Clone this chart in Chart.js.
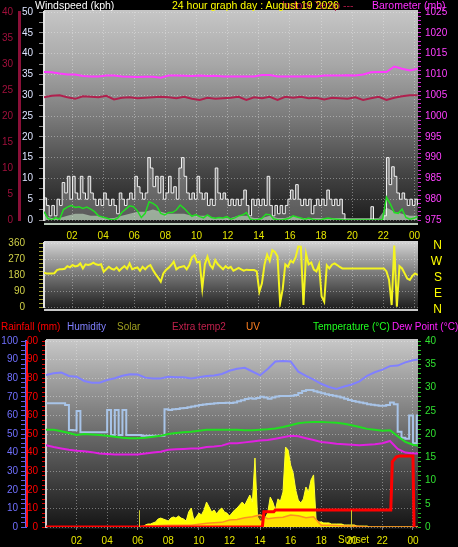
<!DOCTYPE html>
<html>
<head>
<meta charset="utf-8">
<script src="https://cdn.jsdelivr.net/npm/chart.js@4.4.1/dist/chart.umd.min.js"></script>
<style>
  body { margin: 0; background: #000; width: 458px; height: 547px; overflow: hidden; position: relative;
         font-family: 'Liberation Sans', Arial, sans-serif; }
  canvas { position: absolute; left: 0; }
  .t { position: absolute; font-size: 10.5px; line-height: 12px; white-space: nowrap; }
  .l { position: absolute; font-size: 10px; line-height: 12px; white-space: nowrap; }
</style>
</head>
<body>
<canvas id="cTop" width="458" height="247" style="top:0"></canvas>
<canvas id="cDir" width="458" height="84" style="top:233px"></canvas>
<canvas id="cBottom" width="458" height="216" style="top:331px"></canvas>

<div class="t" style="left:35px;top:-1px;color:#fff">Windspeed (kph)</div>
<div class="t" style="left:282px;top:-1px;color:#b01848">Indoor Temp ---</div>
<div class="t" style="left:172px;top:-1px;color:#ffff00">24 hour graph day : August 19 2026</div>
<div class="t" style="left:372px;top:-1px;color:#ff30ff">Barometer (mb)</div>

<div class="l" style="left:1px;top:321px;color:#ff0000">Rainfall (mm)</div>
<div class="l" style="left:67px;top:321px;color:#8080ff">Humidity</div>
<div class="l" style="left:117px;top:321px;color:#a0a020">Solar</div>
<div class="l" style="left:172px;top:321px;color:#c0204c">Extra temp2</div>
<div class="l" style="left:246px;top:321px;color:#ff8020">UV</div>
<div class="l" style="left:313px;top:321px;color:#20ff20">Temperature (°C)</div>
<div class="l" style="left:392px;top:321px;color:#ff20ff">Dew Point (°C)</div>
<div class="l" style="left:338px;top:534px;color:#e6e600">Sunset</div>

<script>
// x axis ticks (hours of the day)
const xTickHours = [2, 4, 6, 8, 10, 12, 14, 16, 18, 20, 22, 24];
const xTickLabels = ['02', '04', '06', '08', '10', '12', '14', '16', '18', '20', '22', '00'];
const compassLabels = ['N', 'E', 'S', 'W', 'N'];

// top panel, samples start at 00:12
const windGust = [ // every 10 min, kph
  5.3, 3.5, 1, 3.5, 1, 5, 3.5, 9, 6.5, 10.5,
  5, 10.5, 6.5, 5, 10.5, 6.5, 5, 10.5, 6.5, 5,
  3.5, 5, 3.5, 6.5, 5, 3.5, 5, 3.5, 1.5, 6.5,
  5, 3.5, 5, 6.5, 5, 10.5, 8, 6.5, 5, 6.5,
  15, 12.5, 8, 10.5, 6.5, 10.5, 5, 6.5, 10.5, 6.5,
  8, 5, 12.5, 15, 10.5, 6.5, 5, 6.5, 5, 10.5,
  6.5, 5, 6.5, 3.5, 5, 3.5, 12.5, 6.5, 5, 6.5,
  5, 3.5, 5, 3.5, 5, 3.5, 5, 7.2, 3.5, 1,
  5, 3.5, 5, 3.5, 5, 3.5, 10.5, 3.5, 1, 3.5,
  1.5, 3.5, 1.5, 3.5, 5, 7.2, 5, 8.5, 5, 3.5,
  5, 3.5, 5, 1.5, 3.5, 5, 3.5, 5, 3.5, 7.2,
  5, 3.5, 5, 3.5, 5, 1.5, 0, 0, 0, 0,
  0, 0, 0, 0, 0, 0, 3.2, 0, 0, 0,
  0, 1, 15, 8.5, 12.8, 10.5, 6.5, 5, 6.5, 5,
  3.5, 5, 3.5, 5, 3.5
];
const windAvg = [ // every 15 min, kph
  2.0, 0.4, 0, 0.6, 0.2, 2.5, 3.1, 3.5, 3.0, 3.2,
  2.8, 3.1, 2.6, 2.0, 1.0, 0.7, 0.5, 0.2, 0, 0.5,
  1.8, 2.6, 3.4, 3.2, 2.2, 0.6, 1.6, 4.4, 4.0, 3.3,
  1.6, 1.2, 1.8, 1.8, 2.4, 3.6, 2.8, 1.8, 0.9, 1.3,
  0.8, 0.5, 1.2, 0.6, 0.4, 0.6, 0.5, 0.8, 0.2, 0.5,
  1.0, 1.2, 1.8, 0.2, 0, 0.1, 0.4, 1.4, 1.3, 0.3,
  0, 0, 0.2, 0.4, 1.0, 0.7, 0.5, 0.2, 0.5, 0.2,
  0, 0, 0.3, 0.5, 0.3, 0.2, 0.1, 0, 0, 0,
  0, 0, 0, 0, 0, 0, 0, 0.1, 5.5, 3.8,
  1.8, 1.6, 2.6, 0.6, 0.2, 0.4, 0.8
];
const windLow = [ // every 30 min, kph
  1, 0.5, 0.5, 1, 1.5, 1.5, 1, 1, 0.5, 0.5,
  1, 1.5, 2, 2, 2.5, 2, 1.5, 1.5, 1.5, 1,
  1, 1, 0.5, 0.5, 0.5, 1, 1, 0.5, 0.5, 1,
  0.5, 0.5, 1, 0.5, 0.5, 0.5, 0.5, 0.5, 0.5, 0.5,
  0.5, 0.5, 0.5, 0.5, 3, 2, 1.5, 1, 1
];
const barometer = [ // every 30 min, mb
  1010.55, 1010.5, 1010.2, 1010.0, 1010.0, 1009.6, 1009.5, 1009.5, 1009.75, 1009.75,
  1009.5, 1009.45, 1009.4, 1009.45, 1009.45, 1009.2, 1009.75, 1009.75, 1009.7, 1009.6,
  1009.75, 1009.6, 1009.7, 1009.5, 1009.5, 1009.5, 1009.5, 1009.5, 1009.85, 1009.85,
  1009.5, 1009.5, 1009.5, 1009.5, 1009.55, 1009.5, 1009.75, 1009.75, 1009.75, 1009.8,
  1009.75, 1010.0, 1010.5, 1010.55, 1010.55, 1011.9, 1011.35, 1010.95, 1011.35
];
const indoorTemp = [ // every 30 min, °C
  23.6, 23.9, 24.0, 23.6, 23.3, 23.8, 23.7, 23.6, 23.9, 23.2,
  23.5, 23.6, 23.4, 23.5, 23.6, 23.7, 23.6, 23.4, 23.7, 23.3,
  23.1, 23.5, 23.3, 23.4, 23.5, 23.7, 23.1, 23.6, 23.4, 23.7,
  23.1, 23.7, 23.5, 23.7, 23.4, 23.5, 23.2, 23.5, 23.4, 23.3,
  23.6, 23.1, 23.4, 23.7, 23.1, 23.5, 23.8, 24.0, 24.0
];

// middle panel
const windDir = [ // every 10 min, degrees
  193, 189, 189, 189, 190, 208, 212, 212, 215, 230,
  223, 236, 228, 232, 245, 217, 240, 236, 240, 249,
  240, 236, 240, 198, 212, 226, 215, 210, 223, 204,
  218, 230, 215, 245, 212, 218, 223, 204, 226, 212,
  228, 236, 208, 185, 165, 142, 189, 208, 220, 235,
  255, 212, 223, 226, 230, 212, 236, 280, 292, 250,
  255, 105, 240, 283, 236, 217, 264, 240, 226, 212,
  230, 218, 226, 204, 212, 220, 212, 204, 210, 208,
  208, 208, 200, 86, 133, 240, 295, 260, 320, 310,
  285, 21, 100, 240, 226, 260, 250, 280, 340, 339,
  11, 300, 240, 250, 210, 200, 240, 60, 30, 235,
  217, 238, 245, 236, 225, 217, 217, 217, 217, 217,
  217, 217, 217, 217, 217, 217, 217, 217, 217, 217,
  217, 217, 200, 152, 11, 345, 2, 230, 217, 189,
  160, 152, 175, 189, 180
];

// bottom panel, samples start at 00:00
const humidity = [ // every 30 min, %
  81.7, 82.6, 83.0, 81.2, 80.8, 78.5, 77.6, 77.6, 79.0, 80.0,
  81.3, 82.1, 82.0, 80.3, 79.9, 79.9, 80.8, 80.5, 80.5, 79.9,
  80.5, 81.2, 81.5, 82.3, 84.0, 85.1, 85.6, 83.6, 81.5, 85.0,
  89.0, 89.2, 89.0, 83.5, 81.2, 79.2, 77.0, 75.3, 74.2, 75.5,
  76.6, 78.3, 81.3, 83.2, 84.6, 86.5, 86.8, 88.5, 89.6, 90.2
];
const indoorHum = [ // every 15 min, %
  66.5, 66.5, 66.5, 66.5, 66.5, 65.6, 52.2, 52.0, 62.4, 51.0,
  50.9, 50.9, 50.9, 50.9, 50.9, 50.9, 62.9, 49.5, 62.9, 49.5,
  62.9, 49.5, 49.5, 49.5, 49.5, 49.1, 49.1, 49.1, 49.1, 49.1,
  49.1, 63.3, 62.9, 63.3, 63.5, 63.8, 64.0, 64.4, 64.8, 65.2,
  65.6, 65.8, 66.1, 66.3, 66.5, 66.6, 66.7, 66.8, 66.6, 67.0,
  67.6, 68.2, 68.8, 69.2, 68.9, 69.4, 70.0, 69.6, 69.0, 69.6,
  70.2, 70.4, 70.4, 70.4, 70.6, 71.0, 72.0, 73.1, 73.6, 73.6,
  73.0, 72.5, 71.9, 71.4, 71.0, 70.6, 70.2, 69.6, 68.9, 68.3,
  67.8, 67.3, 66.9, 66.5, 66.0, 65.7, 65.4, 65.2, 65.2, 65.6,
  67.0, 66.0, 51.2, 48.0, 47.5, 60.0, 45.0, 60.0, 44.5
];
const temperature = [ // every 30 min, °C
  20.9, 20.9, 20.6, 20.2, 19.8, 20.0, 19.9, 19.8, 19.6, 19.4,
  19.2, 19.1, 19.1, 19.2, 19.4, 19.6, 20.0, 20.2, 20.4, 20.5,
  20.7, 20.9, 20.9, 20.9, 20.9, 20.9, 20.8, 20.8, 20.9, 21.0,
  21.2, 21.5, 21.9, 22.3, 22.5, 22.6, 22.6, 22.5, 22.4, 22.2,
  21.9, 21.5, 21.1, 20.9, 20.7, 20.8, 19.5, 18.3, 17.7, 17.4
];
const dewPoint = [ // every 30 min, °C
  17.6, 17.2, 16.9, 16.6, 16.4, 16.3, 16.1, 15.8, 15.7, 15.6,
  15.6, 15.6, 15.6, 15.8, 16.0, 16.2, 16.6, 16.7, 16.8, 16.9,
  16.9, 17.2, 17.3, 17.5, 18.0, 18.0, 18.2, 18.4, 18.6, 18.7,
  19.0, 19.3, 19.6, 19.5, 19.1, 18.7, 18.3, 18.1, 17.9, 17.8,
  17.7, 17.6, 17.7, 17.8, 18.0, 18.5, 16.8, 16.0, 15.8, 15.8
];
const solar = [ // every 10 min, W/m²
  0, 0, 0, 0, 0, 0, 0, 0, 0, 0,
  0, 0, 0, 0, 0, 0, 0, 0, 0, 0,
  0, 0, 0, 0, 0, 0, 0, 0, 0, 0,
  0, 0, 0, 0, 0, 0, 0, 0, 0, 11,
  16, 16, 22, 27, 43, 48, 43, 38, 32, 48,
  54, 48, 59, 48, 43, 32, 81, 102, 38, 54,
  75, 65, 91, 134, 108, 81, 91, 70, 91, 102,
  81, 75, 59, 75, 91, 102, 118, 134, 118, 145,
  172, 134, 371, 54, 32, 32, 48, 75, 161, 134,
  91, 151, 140, 188, 430, 414, 333, 290, 199, 145,
  129, 151, 215, 188, 253, 280, 38, 27, 27, 22,
  22, 22, 16, 16, 16, 16, 16, 11, 11, 11,
  11, 11, 5, 5, 5, 5, 5, 0, 0, 0,
  0, 0, 0, 0, 0, 0, 0, 0, 0, 0,
  0, 0, 0, 0, 0, 0, 0
];
const uvIndex = [ // every 30 min
  0, 0, 0, 0, 0, 0, 0, 0, 0, 0,
  0, 0, 0, 0.1, 0.1, 0.15, 0.2, 0.2, 0.2, 0.2,
  0.3, 0.4, 0.45, 0.5, 0.75, 0.8, 1.0, 1.1, 1.3, 0.9,
  1.0, 1.05, 1.3, 1.2, 1.0, 1.1, 0.2, 0.2, 0.15, 0.1,
  0.1, 0.05, 0, 0, 0, 0, 0, 0, 0, 0
];
const rainHours = [0, 14.15, 14.25, 14.9, 15.0, 22.55, 22.65, 22.9, 23.1, 24.0, 24.07];
const rainMm = [0, 0, 8.2, 8.2, 9.1, 9.1, 35, 37.6, 38.2, 38.2, 0];
const sunEvents = [6.05, 19.95];

Chart.defaults.font.family = "'Liberation Sans', Arial, sans-serif";
Chart.defaults.font.size = 10;
Chart.defaults.animation = false;
Chart.defaults.plugins.legend.display = false;
Chart.defaults.plugins.tooltip.enabled = false;
Chart.defaults.elements.point.radius = 0;

function series(t0, step, values) {
  return values.map((v, i) => ({ x: t0 + i * step, y: v }));
}

const gridCol = 'rgba(240,240,240,0.4)';
const every = n => c => (c.tick && Math.abs(c.tick.value % n) < 1e-6 ? gridCol : 'rgba(0,0,0,0)');
const labelEvery = n => v => (Math.abs(v % n) < 1e-6 ? v : '');

const plotBg = {
  id: 'plotBg',
  beforeDraw(chart, args, o) {
    const { ctx, chartArea: a } = chart;
    const top = a.top - o.padTop, bottom = a.bottom + o.padBottom;
    const g = ctx.createLinearGradient(0, top, 0, bottom);
    o.stops.forEach(s => g.addColorStop(s[0], s[1]));
    ctx.save();
    ctx.fillStyle = g;
    ctx.fillRect(a.left, top, a.right - a.left, bottom - top);
    if (o.edge) {
      ctx.fillStyle = o.edge;
      ctx.fillRect(a.left, bottom - 2, a.right - a.left, 2);
    }
    ctx.restore();
  }
};

function hourAxis(min, max, opts) {
  return {
    type: 'linear', min, max,
    afterBuildTicks: s => { s.ticks = xTickHours.map(v => ({ value: v })); },
    afterFit: s => { s.height = opts.height; },
    ticks: { display: opts.labels, color: '#e6e600', padding: opts.padding, autoSkip: false, maxRotation: 0,
             callback: (v, i) => xTickLabels[i] },
    grid: { color: gridCol, drawTicks: opts.tickLength > 0, tickLength: opts.tickLength, tickColor: '#777' },
    border: { display: false, dash: [1, 2] }
  };
}

// ---------- top: wind + barometer ----------
new Chart(document.getElementById('cTop'), {
  type: 'line',
  data: {
    datasets: [
      { data: series(0.2, 0.5, indoorTemp), yAxisID: 'yIndoor', borderColor: '#b0204e', borderWidth: 2, order: 1 },
      { data: series(0.2, 0.5, barometer), yAxisID: 'yBaro', borderColor: '#ff3cff', borderWidth: 2, order: 2 },
      { data: series(0.2, 0.25, windAvg), yAxisID: 'yWind', borderColor: '#22dd22', borderWidth: 1.5, order: 3 },
      { data: series(0.2, 1 / 6, windGust), yAxisID: 'yWind', borderColor: '#f2f2f2', borderWidth: 1, stepped: true,
        backgroundColor: 'rgba(225,225,225,0.3)', fill: 'origin', order: 4 },
      { data: series(0.2, 0.5, windLow), yAxisID: 'yWind', borderWidth: 0, borderColor: 'rgba(0,0,0,0)',
        backgroundColor: 'rgba(200,245,200,0.55)', fill: 'origin', order: 5 }
    ]
  },
  options: {
    responsive: false,
    layout: { padding: { top: 12, left: 0, right: 0, bottom: 0 } },
    scales: {
      x: hourAxis(0.2, 24.225, { labels: true, height: 27, padding: 10, tickLength: 0 }),
      yIndoor: {
        position: 'left', weight: 2, min: 0, max: 40,
        afterFit: s => { s.width = 19; },
        ticks: { stepSize: 5, color: '#a0103c', padding: 6, autoSkip: false },
        grid: { drawOnChartArea: false, drawTicks: false },
        border: { color: '#8a1038', width: 3 }
      },
      yWind: {
        position: 'left', weight: 1, min: 0, max: 50,
        afterFit: s => { s.width = 25; },
        ticks: { stepSize: 2.5, color: '#dde4ff', padding: 6, autoSkip: false, callback: labelEvery(5) },
        grid: { color: every(5), tickColor: '#8a8a8a', tickLength: 5 },
        border: { color: '#e4e4e4', width: 2, dash: [1, 2] }
      },
      yBaro: {
        position: 'right', min: 975, max: 1025,
        afterFit: s => { s.width = 40; },
        ticks: { stepSize: 1, color: '#ff40ff', padding: 4, autoSkip: false, callback: labelEvery(5) },
        grid: { drawOnChartArea: false, tickColor: '#d020d0', tickLength: 3 },
        border: { display: false }
      }
    },
    plugins: {
      plotBg: { padTop: 2, padBottom: 5, edge: '#b8c8b8',
        stops: [[0, '#c6c6c6'], [0.25, '#a8a8a8'], [0.5, '#7a7a7a'], [0.75, '#464646'], [1, '#1a1a1a']] }
    }
  },
  plugins: [plotBg]
});

// ---------- middle: wind direction ----------
new Chart(document.getElementById('cDir'), {
  type: 'line',
  data: {
    datasets: [
      { data: series(0.2, 1 / 6, windDir), yAxisID: 'yDir', borderColor: '#f4f420', borderWidth: 2 }
    ]
  },
  options: {
    responsive: false,
    layout: { padding: { top: 0, left: 0, right: 16, bottom: 0 } },
    scales: {
      x: hourAxis(0.2, 24.225, { labels: false, height: 0, padding: 0, tickLength: 0 }),
      yDir: {
        position: 'left', weight: 2, min: 0, max: 360,
        afterFit: s => { s.width = 29; },
        ticks: { stepSize: 90, color: '#d0d048', padding: 4, autoSkip: false },
        grid: { drawOnChartArea: false, drawTicks: false },
        border: { display: false }
      },
      yDirTicks: {
        position: 'left', weight: 1, min: 0, max: 360,
        afterFit: s => { s.width = 15; },
        ticks: { stepSize: 22.5, display: false, autoSkip: false },
        grid: { color: every(90), tickColor: '#a0a030', tickLength: 5 },
        border: { color: '#e4e4e4', width: 2, dash: [1, 2] }
      },
      yCompass: {
        position: 'right', min: 0, max: 360,
        afterFit: s => { s.width = 24; },
        ticks: { stepSize: 90, color: '#ffff00', padding: 0, crossAlign: 'far', labelOffset: 3,
                 font: { size: 12 }, autoSkip: false,
                 callback: v => compassLabels[Math.round(v / 90)] },
        grid: { drawOnChartArea: false, drawTicks: false },
        border: { display: false }
      }
    },
    plugins: {
      plotBg: { padTop: 2, padBottom: 4, edge: '#c8c8c8',
        stops: [[0, '#d6d6d6'], [0.45, '#7c7c7c'], [1, '#181818']] }
    }
  },
  plugins: [plotBg]
});

// ---------- bottom: rain, humidity, temperature, solar ----------
const bottomExtras = {
  id: 'bottomExtras',
  afterDatasetsDraw(chart) {
    const { ctx, scales } = chart;
    const { x, yRain, ySolar } = scales;
    ctx.save();
    ctx.fillStyle = '#ff1010';
    ctx.fillRect(yRain.left, yRain.top, 2, yRain.bottom - yRain.top);
    ctx.strokeStyle = '#c8c830';
    ctx.lineWidth = 1;
    sunEvents.forEach(h => {
      const px = Math.round(x.getPixelForValue(h)) + 0.5;
      ctx.beginPath();
      ctx.moveTo(px, ySolar.getPixelForValue(0));
      ctx.lineTo(px, ySolar.getPixelForValue(90));
      ctx.stroke();
    });
    ctx.restore();
  }
};

new Chart(document.getElementById('cBottom'), {
  type: 'line',
  data: {
    datasets: [
      { data: rainHours.map((h, i) => ({ x: h, y: rainMm[i] })), yAxisID: 'yRain', borderColor: '#ff0000', borderWidth: 3, order: 1 },
      { data: series(0, 0.5, dewPoint), yAxisID: 'yTemp', borderColor: '#e020e0', borderWidth: 2, order: 2 },
      { data: series(0, 0.5, temperature), yAxisID: 'yTemp', borderColor: '#20e020', borderWidth: 2, order: 3 },
      { data: series(0, 0.25, indoorHum), yAxisID: 'yHum', borderColor: '#a8c4e8', borderWidth: 2, stepped: true, order: 4 },
      { data: series(0, 0.5, humidity), yAxisID: 'yHum', borderColor: '#8080ff', borderWidth: 2, order: 5 },
      { data: series(0, 0.5, uvIndex), yAxisID: 'yUV', borderColor: '#ff9020', borderWidth: 1.5,
        backgroundColor: 'rgba(255,170,0,0.35)', fill: 'origin', order: 6 },
      { data: series(0, 1 / 6, solar), yAxisID: 'ySolar', borderColor: '#ffff30', borderWidth: 1,
        backgroundColor: '#ffff00', fill: 'origin', order: 7 }
    ]
  },
  options: {
    responsive: false,
    layout: { padding: { top: 0, left: 0, right: 0, bottom: 0 } },
    scales: {
      x: hourAxis(0, 24.33, { labels: true, height: 20, padding: 5, tickLength: 3 }),
      yHum: {
        position: 'left', weight: 2, min: 0, max: 100,
        afterFit: s => { s.width = 26; },
        ticks: { stepSize: 2.5, color: '#7070ff', padding: 3, autoSkip: false, callback: labelEvery(10) },
        grid: { color: every(10), tickColor: '#6060e0', tickLength: 5 },
        border: { color: '#6060f0', width: 2, dash: [1, 2] }
      },
      yRain: {
        position: 'left', weight: 1, min: 0, max: 100,
        afterFit: s => { s.width = 20; },
        ticks: { stepSize: 2.5, color: '#ff0000', padding: 4, autoSkip: false, callback: labelEvery(10) },
        grid: { drawOnChartArea: false, tickColor: '#e00000', tickLength: 4 },
        border: { color: '#d0d0d0', width: 2 }
      },
      yTemp: {
        position: 'right', min: 0, max: 40,
        afterFit: s => { s.width = 40; },
        ticks: { stepSize: 1, color: '#30e030', padding: 4, autoSkip: false, callback: labelEvery(5) },
        grid: { drawOnChartArea: false, tickColor: '#20c020', tickLength: 3 },
        border: { display: false }
      },
      ySolar: { display: false, min: 0, max: 1000 },
      yUV: { display: false, min: 0, max: 20 }
    },
    plugins: {
      plotBg: { padTop: 2, padBottom: 2, edge: null,
        stops: [[0, '#c8c8c8'], [0.5, '#6a6a6a'], [1, '#141414']] }
    }
  },
  plugins: [plotBg, bottomExtras]
});
</script>
</body>
</html>
